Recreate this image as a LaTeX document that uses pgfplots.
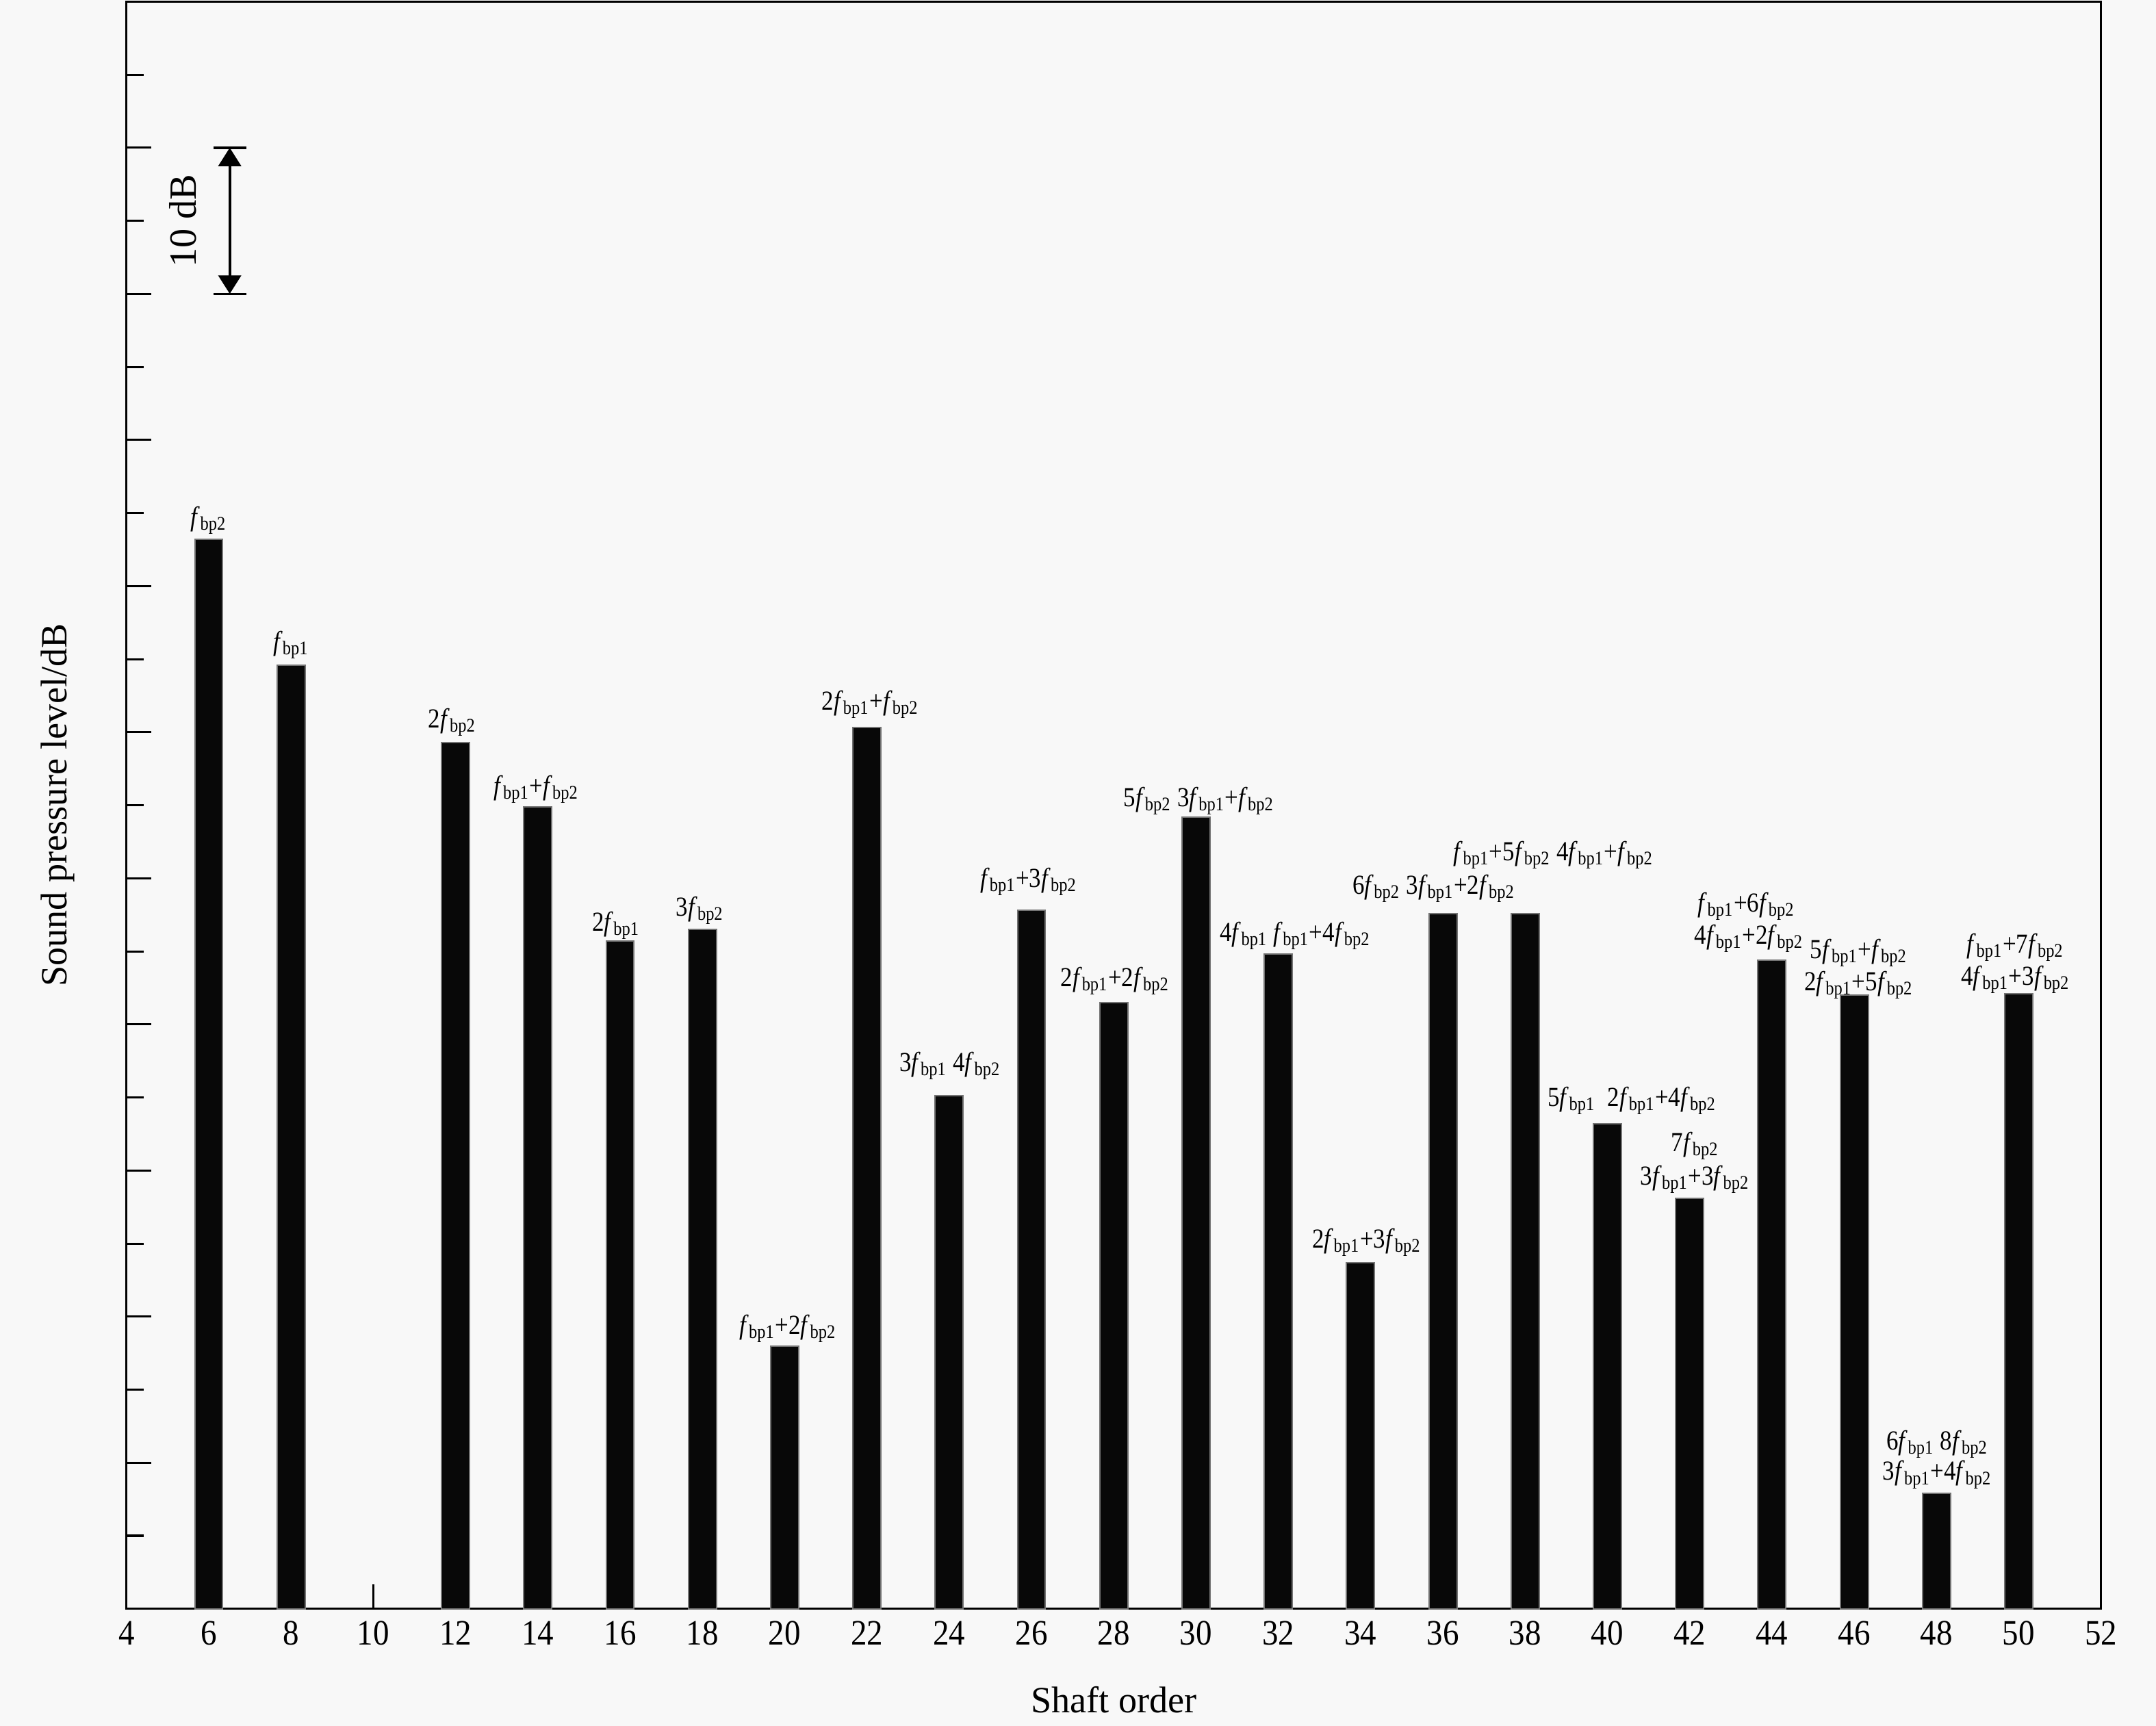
\documentclass[border=0pt]{standalone}
\usepackage{fontspec}
\setmainfont{Liberation Serif}
\usepackage{pgfplots}
\pgfplotsset{compat=1.18}
\usetikzlibrary{arrows.meta,backgrounds}
\definecolor{bg}{RGB}{248,248,248}
\newcommand{\fa}{\textit{f}\textsubscript{bp1}}
\newcommand{\fb}{\textit{f}\textsubscript{bp2}}
\tikzset{lab/.style={anchor=base, xscale=0.87}}
\pgfplotstableread{
x y
6 73.2
8 64.6
12 59.3
14 54.9
16 45.7
18 46.5
20 18.0
22 60.3
24 35.1
26 47.8
28 41.5
30 54.2
32 44.8
34 23.7
36 47.6
38 47.6
40 33.2
42 28.1
44 44.4
46 42.0
48 7.9
50 42.1
}\bars
\begin{document}
\begin{tikzpicture}[background rectangle/.style={fill=bg,draw=none},show background rectangle,inner frame sep=0pt]
\begin{axis}[name=ax, scale only axis, width=718pt, height=584.5pt,
  xmin=4, xmax=52, ymin=0, ymax=110,
  xtick={4,6,...,52}, major x tick style={draw=none},
  ytick={0,10,...,110}, minor ytick={5,15,...,105}, yticklabels={},
  ytick pos=left, xtick pos=bottom, tick align=inside,
  major tick length=9pt, minor tick length=6.2pt,
  axis line style={line width=0.8pt},
  every tick/.style={line width=0.8pt, black},
  /pgf/number format/assume math mode=true,
  xticklabel style={font=\fontsize{13}{14}\selectfont, yshift=-1pt, xscale=0.9},
  xlabel={Shaft order}, ylabel={Sound pressure level/dB},
  label style={font=\fontsize{13.5}{15}\selectfont},
  xlabel style={yshift=-8pt},
  ylabel style={yshift=8.5pt},
  clip=false,
  every node/.style={font=\fontsize{10}{11}\selectfont, inner sep=0pt},
]
\addplot[ybar, bar width=0.68, fill=black!97, draw=black!55, line width=0.5pt] table[x=x,y=y]{\bars};
\addplot[ycomb, line width=0.8pt, black, no markers] coordinates {(10,1.7)};

% 10 dB annotation
\draw[line width=0.9pt] (axis cs:6.11,100) -- (axis cs:6.91,100);
\draw[line width=0.9pt] (axis cs:6.11,90) -- (axis cs:6.91,90);
\draw[line width=1pt, {Triangle[length=6.7pt,width=8.2pt]}-{Triangle[length=6.7pt,width=8.2pt]}] (axis cs:6.51,100) -- (axis cs:6.51,90);
\node[rotate=90, font=\fontsize{14}{15}\selectfont] at (axis cs:5.37,95) {10 dB};

% bar labels
\node[lab] at (axis cs:6,74.1) {\fb};
\node[lab] at (axis cs:8,65.6) {\fa};
\node[lab] at (axis cs:11.92,60.3) {2\fb};
\node[lab] at (axis cs:13.96,55.7) {\fa+\fb};
\node[lab] at (axis cs:15.9,46.4) {2\fa};
\node[lab] at (axis cs:17.94,47.4) {3\fb};
\node[lab] at (axis cs:20.08,18.8) {\fa+2\fb};
\node[lab] at (axis cs:22.08,61.5) {2\fa+\fb};
\node[lab] at (axis cs:24.02,36.8) {3\fa\ 4\fb};
\node[lab] at (axis cs:25.93,49.4) {\fa+3\fb};
\node[lab] at (axis cs:28.03,42.6) {2\fa+2\fb};
\node[lab] at (axis cs:30.07,54.9) {5\fb\ 3\fa+\fb};
\node[lab] at (axis cs:32.41,45.7) {4\fa\ \fa+4\fb};
\node[lab] at (axis cs:34.15,24.7) {2\fa+3\fb};
\node[lab] at (axis cs:35.78,48.9) {6\fb\ 3\fa+2\fb};
\node[lab] at (axis cs:38.69,51.2) {\fa+5\fb\ 4\fa+\fb};
\node[lab] at (axis cs:40.6,34.4) {5\fa\ \ 2\fa+4\fb};
\node[lab] at (axis cs:42.13,31.3) {7\fb};
\node[lab] at (axis cs:42.13,29.0) {3\fa+3\fb};
\node[lab] at (axis cs:43.38,47.7) {\fa+6\fb};
\node[lab] at (axis cs:43.44,45.5) {4\fa+2\fb};
\node[lab] at (axis cs:46.11,44.5) {5\fa+\fb};
\node[lab] at (axis cs:46.11,42.3) {2\fa+5\fb};
\node[lab] at (axis cs:48.02,10.9) {6\fa\ 8\fb};
\node[lab] at (axis cs:48.02,8.8) {3\fa+4\fb};
\node[lab] at (axis cs:49.92,44.9) {\fa+7\fb};
\node[lab] at (axis cs:49.92,42.7) {4\fa+3\fb};
\end{axis}
\pgfresetboundingbox
\path[use as bounding box] ([xshift=-46pt,yshift=-42.5pt]ax.south west) rectangle ([xshift=20pt,yshift=0.6pt]ax.north east);
\end{tikzpicture}
\end{document}
